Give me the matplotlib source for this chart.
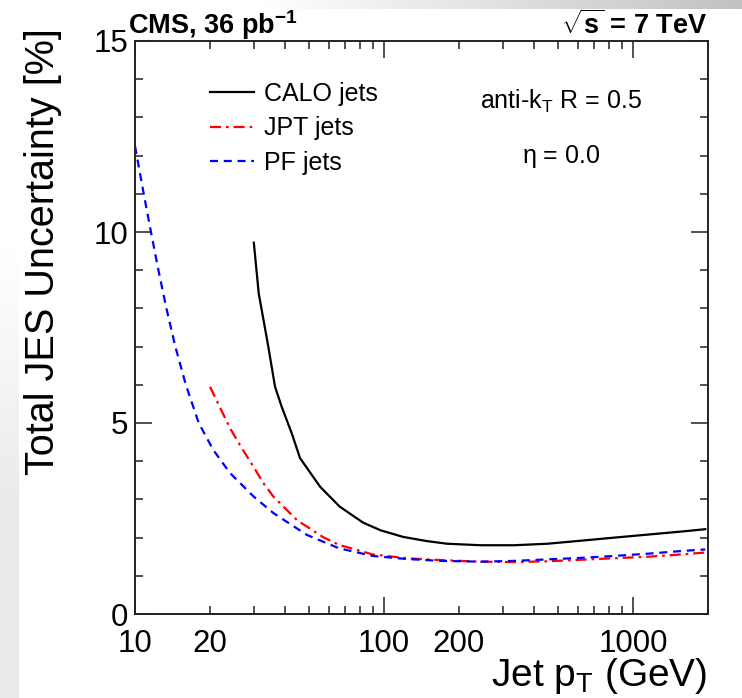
import numpy as np
import matplotlib
matplotlib.use("Agg")
import matplotlib.pyplot as plt
from matplotlib.ticker import FixedLocator, FuncFormatter

plt.rcParams['font.family'] = ['Liberation Sans', 'DejaVu Sans']
plt.rcParams['mathtext.fontset'] = 'custom'
plt.rcParams['mathtext.rm'] = 'Liberation Sans'
plt.rcParams['mathtext.it'] = 'Liberation Sans:italic'
plt.rcParams['mathtext.bf'] = 'Liberation Sans:bold'

# ---- data ----
calo_pt = [30, 31.4, 34.3, 36.5, 38.8, 42.6, 46, 55.4, 66.4, 82.5, 97, 119, 148, 179,
           244, 333, 455, 620, 843, 1152, 1573, 1950]
calo_unc = [9.72, 8.39, 7.0, 5.95, 5.43, 4.73, 4.08, 3.33, 2.81, 2.39, 2.19, 2.02, 1.91, 1.84,
            1.80, 1.80, 1.84, 1.92, 2.00, 2.08, 2.16, 2.22]

jpt_pt = [20, 24, 26.4, 30, 33, 36, 45, 49, 57, 66, 90, 123, 170, 244, 333, 455, 620, 843,
          1152, 1573, 1950]
jpt_unc = [5.95, 4.88, 4.42, 3.84, 3.40, 3.07, 2.44, 2.29, 2.01, 1.81, 1.56, 1.46, 1.41, 1.37,
           1.36, 1.38, 1.42, 1.46, 1.50, 1.56, 1.61]

pf_pt = [10, 10.84, 11.59, 12.42, 13.37, 14.52, 16.0, 18.03, 20.6, 24, 30, 36, 49, 66, 90, 123,
         170, 244, 333, 455, 620, 843, 1152, 1573, 1950]
pf_unc = [12.25, 11.0, 10.0, 9.0, 8.0, 7.0, 6.0, 5.0, 4.3, 3.7, 3.07, 2.64, 2.07, 1.72,
          1.52, 1.44, 1.39, 1.37, 1.39, 1.43, 1.47, 1.52, 1.58, 1.65, 1.69]

series_labels = ["CALO jets", "JPT jets", "PF jets"]
x_major = [10, 100, 1000]
x_minor = [20, 30, 40, 50, 60, 70, 80, 90, 200, 300, 400, 500, 600, 700, 800, 900, 2000]
x_minor_labeled = [20, 200]
y_major = [0, 5, 10, 15]

W, H = 742, 698
fig = plt.figure(figsize=(W / 100, H / 100), dpi=100)

# background (slide gradient)
bg = fig.add_axes([0, 0, 1, 1], zorder=-10)
xx, yy = np.meshgrid(np.arange(W), np.arange(H))
img = np.ones((H, W))
top = (yy < 9)
img[top] = 1 - 0.24 * np.clip((xx[top] - 260) / (W - 260), 0, 1)
left = (xx < 19)
img[left] = np.minimum(img[left], 1 - 0.08 * np.clip((yy[left] - 250) / 250, 0, 1))
bg.imshow(np.dstack([img] * 3), aspect='auto', extent=(0, W, H, 0))
bg.axis('off')

l, r, t, b = 135, 708, 41, 614
ax = fig.add_axes([l / W, (H - b) / H, (r - l) / W, (b - t) / H])
ax.patch.set_alpha(0)

ax.plot(calo_pt, calo_unc, color='black', lw=1.6, label=series_labels[0])
ax.plot(jpt_pt, jpt_unc, color='#ff0000', lw=1.6, dashes=(5, 2.2, 1.2, 2.2), label=series_labels[1])
ax.plot(pf_pt, pf_unc, color='#0000ff', lw=1.6, dashes=(3.6, 2.6), label=series_labels[2])

ax.set_xscale('log')
ax.set_xlim(10, 2000)
ax.set_ylim(0, 15)

ax.xaxis.set_major_locator(FixedLocator(x_major))
ax.xaxis.set_minor_locator(FixedLocator(x_minor))
ax.xaxis.set_major_formatter(FuncFormatter(lambda v, p: f"{v:g}"))
ax.xaxis.set_minor_formatter(FuncFormatter(lambda v, p: f"{v:g}" if round(v) in x_minor_labeled else ""))
ax.yaxis.set_major_locator(FixedLocator(y_major))
ax.yaxis.set_minor_locator(FixedLocator(np.arange(0, 16, 1)))
ax.yaxis.set_major_formatter(FuncFormatter(lambda v, p: f"{v:g}"))

for s in ax.spines.values():
    s.set_color('#222222')
    s.set_linewidth(1.4)
ax.tick_params(which='both', direction='in', top=True, right=True, color='#222222', width=1.1,
               labelsize=22.5)
ax.tick_params(which='major', length=12)
ax.tick_params(which='minor', length=6)
ax.tick_params(axis='x', which='both', pad=10.5)
ax.tick_params(axis='y', which='both', pad=5)

# axis titles
fig.text(43 / W, 1 - 28 / H, "Total JES Uncertainty [%]", rotation=90, ha='center', va='top',
         fontsize=28.5)
fig.text(707 / W, 1 - 686 / H, r"Jet p$_\mathrm{T}$ (GeV)", ha='right', va='baseline', fontsize=28)

# header texts
fig.text(128 / W, 1 - 34 / H, r"CMS, 36 pb$^{\mathbf{-1}}$", ha='left', va='baseline',
         fontsize=19.5, fontweight='bold')
fig.text(707 / W, 1 - 34 / H, r"$\sqrt{\mathbf{s}}$ = 7 TeV", ha='right', va='baseline',
         fontsize=19.5, fontweight='bold')

# annotations
fig.text(561 / W, 1 - 109 / H, r"anti-k$_\mathrm{T}$ R = 0.5", ha='center', va='baseline', fontsize=18)
fig.text(561 / W, 1 - 163 / H, r"$\mathrm{\eta}$ = 0.0", ha='center', va='baseline', fontsize=18)

leg = ax.legend(loc='upper left', bbox_to_anchor=((210 - l) / (r - l), (b - 82) / (b - t)),
                frameon=False, fontsize=18, handlelength=1.75, handletextpad=0.42,
                labelspacing=0.42, borderpad=0, borderaxespad=0)

fig.savefig("out.png", dpi=100)
